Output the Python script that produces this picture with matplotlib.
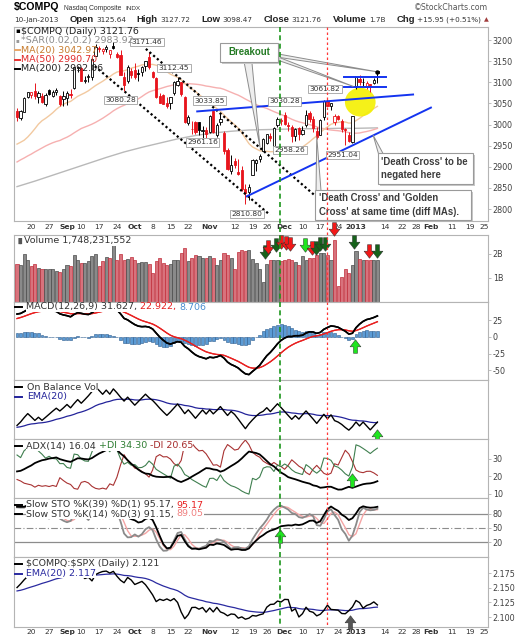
import numpy as np
import pandas as pd
import matplotlib
matplotlib.use("Agg")
import matplotlib.pyplot as plt
import matplotlib.transforms as mtransforms
from matplotlib.path import Path
from matplotlib.lines import Line2D
from matplotlib.patches import Ellipse, Polygon, Rectangle

plt.rcParams["font.family"] = ["DejaVu Sans"]
plt.rcParams["axes.unicode_minus"] = False

# ---------------------------------------------------------------- calendar
holidays = ["2012-07-04", "2012-09-03", "2012-10-29", "2012-10-30", "2012-11-22",
            "2012-12-25", "2013-01-01", "2013-01-21", "2013-02-18"]
first_day = "2012-08-14"

# warm-up history (1 Jun - 13 Aug 2012), only used for the indicators
pre_close = [2747.48, 2760.01, 2778.11, 2844.72, 2831.02, 2858.42, 2809.73, 2843.07, 2818.61, 2836.33,
             2872.80, 2895.33, 2929.76, 2930.45, 2859.09, 2892.42,
             2836.16, 2854.06, 2875.32, 2849.49, 2935.05, 2951.23, 2976.08, 2976.12, 2937.33, 2931.77,
             2902.33, 2887.98, 2866.19, 2908.47, 2896.94, 2910.04, 2942.60, 2965.90, 2925.30, 2890.15,
             2862.99, 2854.24, 2893.25, 2958.09, 2945.84, 2939.52, 2920.21, 2909.77, 2967.90, 2989.91,
             3015.86, 3011.25, 3018.64, 3020.86, 3022.52]
pre_high = [2790, 2768, 2781, 2845, 2872, 2859, 2890, 2844, 2850, 2842, 2873, 2900, 2937, 2939, 2932, 2893,
            2866, 2860, 2880, 2860, 2936, 2954, 2977, 2995, 2960, 2940, 2945, 2905, 2876, 2910, 2909, 2917,
            2949, 2971, 2945, 2895, 2895, 2876, 2900, 2962, 2966, 2958, 2955, 2930, 2975, 3007, 3026, 3017,
            3023, 3021, 3023]
pre_low = [2726, 2726, 2751, 2793, 2830, 2815, 2809, 2807, 2808, 2806, 2837, 2858, 2903, 2905, 2857, 2862,
           2830, 2835, 2852, 2820, 2890, 2925, 2950, 2960, 2922, 2920, 2897, 2876, 2847, 2875, 2890, 2880,
           2902, 2950, 2922, 2860, 2845, 2845, 2875, 2903, 2938, 2937, 2917, 2891, 2948, 2973, 2995, 2999,
           3006, 2998, 3000]
pre_vol = [1.95, 1.72, 1.55, 1.80, 1.62, 1.48, 1.60, 1.58, 1.52, 1.60, 1.95, 1.58, 1.70, 1.78, 1.92, 2.10,
           1.55, 1.62, 1.50, 1.65, 2.00, 1.45, 0.95, 1.35, 1.55, 1.50, 1.60, 1.58, 1.62, 1.45, 1.40, 1.65,
           1.60, 1.70, 1.55, 1.65, 1.75, 1.70, 1.80, 1.90, 1.60, 1.70, 1.75, 1.60, 1.70, 1.40, 1.60, 1.55,
           1.45, 1.35, 1.30]
pre_spx = [1278.04, 1278.18, 1285.50, 1315.13, 1314.99, 1325.66, 1308.93, 1324.18, 1314.88, 1329.10,
           1342.84, 1344.78, 1357.98, 1355.69, 1325.51, 1335.02,
           1313.72, 1319.99, 1331.85, 1329.04, 1362.16, 1365.51, 1374.02, 1367.58, 1354.68, 1352.46,
           1341.47, 1341.45, 1334.76, 1356.78, 1353.64, 1363.67, 1372.78, 1376.51, 1362.66, 1350.52,
           1338.31, 1337.89, 1360.02, 1385.97, 1385.30, 1379.32, 1375.32, 1365.00, 1390.99, 1394.23,
           1401.35, 1402.22, 1402.80, 1405.87, 1404.11]

# ---------------------------------------------------------------- shown period (14 Aug 2012 - 10 Jan 2013)
opens = [3033, 3015, 3030, 3065, 3070, 3080, 3064, 3068, 3049, 3082, 3068, 3077, 3068, 3060,
         3063, 3072, 3086, 3133, 3134, 3103, 3113, 3113, 3162, 3180, 3173, 3178, 3168, 3186, 3168, 3164,
         3113, 3103, 3126,
         3130, 3122, 3125, 3138, 3159, 3124, 3111, 3068, 3070, 3050, 3052, 3075, 3094, 3100, 3066, 3003,
         2989, 3005, 3005, 2984, 2986,
         2983, 3032, 2975, 3006, 2980, 2939, 2890, 2914, 2888, 2893, 2848, 2841, 2881, 2909, 2919, 2937,
         2956, 2973, 2950, 3000, 3008,
         3023, 3000, 2994, 2972, 2992, 2977, 2999, 3028, 3012, 2985, 2976, 3017, 3056, 3044, 3006, 3019,
         3009, 2990, 2975, 2958,
         3091, 3108, 3100, 3090, 3095, 3099, 3125.64]
highs = [3038, 3034, 3065, 3077, 3077, 3099, 3080, 3074, 3075, 3084, 3082, 3086, 3070, 3080,
         3080, 3083, 3136, 3139, 3136, 3115, 3120, 3158, 3191, 3185, 3182, 3189, 3176, 3196, 3172, 3177,
         3124, 3142, 3134,
         3146, 3132, 3139, 3150, 3171.46, 3127, 3112, 3074, 3072, 3064, 3065, 3102, 3112.45, 3101, 3068,
         3023, 3008, 3008, 3007, 2997, 2993,
         3023, 3033.85, 3004, 3024, 2985, 2944, 2929, 2920, 2918, 2902, 2860, 2859, 2918, 2919, 2931,
         2967, 2977, 2981, 2993, 3018, 3015,
         3030.28, 3005, 2998, 2991, 2995, 2997, 3034, 3032, 3020, 2995, 3012, 3057, 3061.82, 3052, 3025,
         3022, 3012, 2992, 2982, 3020,
         3112.6, 3118, 3109, 3102, 3097, 3111, 3127.72]
lows = [3008, 3011, 3029, 3062, 3063, 3060, 3051, 3050, 3044, 3070, 3065, 3070, 3044, 3044,
        3046, 3063, 3085, 3125, 3104, 3099, 3100, 3106, 3161, 3172, 3168, 3172, 3157, 3178, 3157, 3117,
        3080.28, 3099, 3110,
        3107, 3102, 3114, 3126, 3132, 3109, 3063, 3050, 3048, 3040, 3037, 3071, 3091, 3068, 3004, 2998,
        2977, 2978, 2975, 2961.16, 2967,
        2981, 2980, 2970, 3000, 2930, 2893, 2884, 2896, 2880, 2843, 2810.80, 2822, 2881, 2889, 2912,
        2937, 2954, 2962, 2940, 2995, 2998,
        3000, 2984, 2958.26, 2962, 2963, 2975, 2994, 3006, 2983, 2966, 2976, 3010, 3043, 3035, 2998,
        3010, 2983, 2951.04, 2958, 2957,
        3085, 3093, 3091, 3083, 3078, 3096, 3098.47]
closes = [3016.98, 3030.93, 3062.39, 3076.59, 3076.21, 3067.26, 3073.67, 3053.40, 3069.79, 3073.19,
          3077.14, 3081.19, 3048.71, 3066.96,
          3075.06, 3069.27, 3135.81, 3136.42, 3104.02, 3104.53, 3114.31, 3155.83, 3183.95, 3178.67,
          3177.80, 3182.62, 3175.96, 3179.96, 3160.78, 3117.73, 3093.70, 3136.60, 3116.23,
          3113.53, 3120.04, 3135.23, 3149.46, 3136.19, 3112.35, 3065.02, 3051.78, 3049.41, 3044.11,
          3064.18, 3101.17, 3104.12, 3072.87, 3005.62, 3016.96, 2990.46, 2981.70, 2986.12, 2987.95, 2977.23,
          3020.06, 2982.13, 2999.66, 3011.93, 2937.29, 2895.58, 2904.87, 2904.25, 2883.89, 2846.81,
          2836.94, 2853.13, 2916.07, 2916.68, 2926.55, 2966.85, 2976.78, 2967.79, 2991.78, 3012.03, 3010.24,
          3002.20, 2996.69, 2973.70, 2989.27, 2978.04, 2986.96, 3022.30, 3013.81, 2992.16, 2971.33,
          3010.60, 3054.53, 3044.36, 3050.39, 3021.01, 3012.60, 2990.16, 2985.91, 2960.31, 3019.51,
          3112.26, 3100.57, 3101.66, 3098.81, 3091.81, 3105.81, 3121.76]
volume = [1.60, 1.56, 1.99, 1.76, 1.49, 1.58, 1.43, 1.39, 1.36, 1.39, 1.39, 1.31, 1.25, 1.39,
          1.53, 1.51, 1.94, 1.76, 1.63, 1.63, 1.71, 1.90, 2.01, 1.51, 1.72, 1.88, 1.83, 2.36, 1.74, 1.99,
          1.74, 1.78, 1.86,
          1.76, 1.64, 1.65, 1.65, 1.58, 1.22, 1.69, 1.82, 1.64, 1.56, 1.58, 1.76, 1.76, 2.06, 2.26, 1.71,
          1.82, 1.97, 1.90, 1.83, 1.83,
          1.90, 1.83, 1.53, 1.76, 2.06, 1.94, 1.83, 1.39, 2.07, 2.18, 2.11, 2.18, 1.79, 1.63, 1.39, 0.82,
          1.60, 1.76, 1.76, 1.76, 1.69,
          1.76, 1.79, 1.74, 1.65, 1.56, 1.93, 1.74, 1.83, 1.83, 1.94, 2.04, 2.04, 1.97, 1.74, 2.59, 0.66,
          1.05, 1.38, 1.19, 1.56,
          2.12, 1.79, 1.76, 1.76, 1.76, 1.76, 1.748231552]
spx = [1403.11, 1405.53, 1415.51, 1418.16, 1418.13, 1413.17, 1413.49, 1402.08, 1411.13, 1410.44,
       1409.30, 1410.49, 1399.48, 1406.58,
       1404.94, 1403.44, 1432.12, 1437.92, 1429.08, 1433.56, 1436.56, 1459.99, 1465.77, 1461.19,
       1459.32, 1461.05, 1460.26, 1460.15, 1456.89, 1441.59, 1433.32, 1447.15, 1440.67,
       1444.49, 1445.75, 1450.99, 1461.40, 1460.93, 1455.88, 1441.48, 1432.56, 1432.84, 1428.59,
       1440.13, 1454.92, 1460.91, 1457.34, 1433.19, 1433.82, 1413.11, 1408.75, 1412.97, 1411.94, 1412.16,
       1427.59, 1414.20, 1417.26, 1428.39, 1394.53, 1377.51, 1379.85, 1380.03, 1374.53, 1355.49,
       1353.33, 1359.88, 1386.89, 1387.81, 1391.03, 1409.15, 1406.29, 1398.94, 1409.93, 1415.95, 1416.18,
       1409.46, 1407.05, 1409.28, 1413.94, 1418.07, 1418.55, 1427.84, 1428.48, 1419.45, 1413.58,
       1430.36, 1446.79, 1435.81, 1443.69, 1430.15, 1426.66, 1419.83, 1418.10, 1402.43, 1426.19,
       1462.42, 1459.37, 1466.47, 1461.89, 1457.15, 1461.02, 1472.12]

# MA(200) every week (bar number, value)
ma200_bar = [0, 5, 10, 15, 20, 25, 30, 35, 40, 45, 50, 55, 60, 65, 70, 75, 80, 85, 90, 95, 101]
ma200_val = [2853, 2866, 2880, 2894, 2908, 2922, 2935, 2946, 2956, 2966, 2974, 2980, 2984, 2987,
             2988, 2989, 2990, 2990, 2991, 2991, 2992.06]

# x axis labels
tick_dates = ["2012-08-20", "2012-08-27", "2012-09-04", "2012-09-10", "2012-09-17", "2012-09-24",
              "2012-10-01", "2012-10-08", "2012-10-15", "2012-10-22", "2012-11-01", "2012-11-12",
              "2012-11-19", "2012-11-26", "2012-12-03", "2012-12-10", "2012-12-17", "2012-12-24",
              "2013-01-02", "2013-01-14", "2013-01-22", "2013-01-28", "2013-02-01", "2013-02-11",
              "2013-02-19", "2013-02-25"]
tick_text = ["20", "27", "Sep", "10", "17", "24", "Oct", "8", "15", "22", "Nov", "12", "19", "26",
             "Dec", "10", "17", "24", "2013", "14", "22", "28", "Feb", "11", "19", "25"]

# price labels drawn on the chart (bar, price, text)
price_tags = [(36.4, 3195, "3171.46"), (29.0, 3058, "3080.28"), (44.0, 3134, "3112.45"),
              (54.0, 3056, "3033.85"), (52.0, 2958, "2961.16"), (64.4, 2788, "2810.80"),
              (75.0, 3055, "3030.28"), (76.5, 2940, "2958.26"), (86.3, 3084, "3061.82"),
              (91.3, 2928, "2951.04")]

# hand drawn lines (bar, price)
channel_lines = [((21.8, 3138), (70.9, 2786)), ((36.1, 3179), (84.3, 2826))]
blue_lines = [((50.5, 3031), (111.0, 3071)), ((64.4, 2830), (116.0, 3040)),
              ((91.6, 3113), (103.5, 3113)), ((91.6, 3088), (103.5, 3088))]
green_day, red_day = 73.8, 86.8

# ---------------------------------------------------------------- indicators
cal = pd.bdate_range("2012-06-01", "2013-03-01")
cal = cal[~cal.isin(pd.to_datetime(holidays))]
n0 = cal.get_loc(pd.Timestamp(first_day))
tick_x = [cal.get_loc(pd.Timestamp(d)) - n0 for d in tick_dates]

npre = len(pre_close)
c_all = pd.Series(pre_close + closes, dtype=float)
h_all = pd.Series(pre_high + highs, dtype=float)
l_all = pd.Series(pre_low + lows, dtype=float)
v_all = pd.Series(pre_vol + volume, dtype=float) * 1e9
s_all = pd.Series(pre_spx + spx, dtype=float)
bars = np.arange(len(closes))

def shown(s):
    return np.asarray(s, dtype=float)[npre:]

ma20 = shown(c_all.rolling(20).mean())
ma50 = shown(c_all.rolling(50).mean())

macd_all = c_all.ewm(span=12, adjust=False).mean() - c_all.ewm(span=26, adjust=False).mean()
sig_all = macd_all.ewm(span=9, adjust=False).mean()
macd_line, macd_sig = shown(macd_all), shown(sig_all)
macd_hist = macd_line - macd_sig

obv_all = (np.sign(c_all.diff()).fillna(0) * v_all).cumsum()
obv, obv_ema = shown(obv_all), shown(obv_all.ewm(span=20, adjust=False).mean())

pc = c_all.shift(1)
true_range = pd.concat([h_all - l_all, (h_all - pc).abs(), (l_all - pc).abs()], axis=1).max(axis=1)
upm, dnm = h_all.diff(), -l_all.diff()
pdm = pd.Series(np.where((upm > dnm) & (upm > 0), upm, 0.0))
mdm = pd.Series(np.where((dnm > upm) & (dnm > 0), dnm, 0.0))
atr = true_range.ewm(alpha=1 / 14, adjust=False).mean()
pdi_all = 100 * pdm.ewm(alpha=1 / 14, adjust=False).mean() / atr
mdi_all = 100 * mdm.ewm(alpha=1 / 14, adjust=False).mean() / atr
dx = 100 * (pdi_all - mdi_all).abs() / (pdi_all + mdi_all)
adx, pdi, mdi = shown(dx.ewm(alpha=1 / 14, adjust=False).mean()), shown(pdi_all), shown(mdi_all)

def fast_k(n):
    lo, hi = l_all.rolling(n).min(), h_all.rolling(n).max()
    return 100 * (c_all - lo) / (hi - lo)

k39 = shown(fast_k(39).rolling(3).mean())
k14_all = fast_k(14).rolling(3).mean()
k14, d14 = shown(k14_all), shown(k14_all.rolling(3).mean())

ratio_all = c_all / s_all
ratio, ratio_ema = shown(ratio_all), shown(ratio_all.ewm(span=20, adjust=False).mean())

# ---------------------------------------------------------------- figure
W, H = 529, 640
fig = plt.figure(figsize=(W / 100, H / 100), dpi=100)
fig.patch.set_facecolor("white")
renderer = fig.canvas.get_renderer()

def panel(top, bot):
    ax = fig.add_axes([14 / W, 1 - bot / H, 474 / W, (bot - top) / H])
    ax.set_xlim(-0.85, 132)
    for s in ax.spines.values():
        s.set_color("#b4b4b4")
        s.set_linewidth(0.8)
    ax.yaxis.tick_right()
    ax.tick_params(axis="y", labelsize=5.8, labelcolor="#404040", color="#b4b4b4",
                   length=2, width=0.6, pad=1.5)
    ax.set_xticks(tick_x)
    ax.tick_params(axis="x", length=0, labelbottom=False)
    return ax

def date_labels(ax, pad):
    ax.tick_params(axis="x", labelbottom=True, labelsize=5.4, labelcolor="#333333", pad=pad)
    ax.set_xticklabels(tick_text)
    for lab, t in zip(ax.get_xticklabels(), tick_text):
        if not t.isdigit() or t == "2013":
            lab.set_fontweight("bold")

def rich(xp, yp, parts, size=6.5, family="DejaVu Sans", weight="normal", box=True):
    for s, c in parts:
        t = fig.text(xp / W, 1 - yp / H, s, color=c, fontsize=size, family=family,
                     fontweight=weight, va="center", ha="left", zorder=6)
        if box:
            t.set_bbox(dict(boxstyle="square,pad=0.0", fc="white", ec="none"))
        xp += t.get_window_extent(renderer).width
    return xp

def key_line(yp, color, xa=15, xb=23):
    fig.add_artist(Line2D([xa / W, xb / W], [1 - yp / H] * 2, color=color, lw=1.4, zorder=6))

arrow_down = Path([(-0.3, 1), (0.3, 1), (0.3, 0.05), (0.8, 0.05), (0, -1), (-0.8, 0.05),
                   (-0.3, 0.05), (-0.3, 1)], [Path.MOVETO] + [Path.LINETO] * 6 + [Path.CLOSEPOLY])
arrow_up = Path(arrow_down.vertices * [1, -1], arrow_down.codes)

def arrow(ax, xb, yf, color, up):
    tr_ = mtransforms.blended_transform_factory(ax.transData, ax.transAxes)
    ax.scatter([xb], [yf], marker=arrow_up if up else arrow_down, s=95, c=color,
               edgecolors="#2a2a2a", linewidths=0.35, transform=tr_, clip_on=False, zorder=8)

dk_green, br_green, red_arr, grey_arr = "#16621a", "#1fe51f", "#f21818", "#555555"

# ---------------- header
fig.text(14 / W, 1 - 7.5 / H, "$COMPQ", fontsize=7.6, family="Liberation Sans", fontweight="bold",
         color="black", va="center")
t_name = fig.text(64 / W, 1 - 8 / H, "Nasdaq Composite", fontsize=4.9, family="Liberation Sans",
                  color="#333333", va="center")
name_end = 64 + t_name.get_window_extent(renderer).width
fig.text((name_end + 4) / W, 1 - 8 / H, "INDX", fontsize=4.6, family="Liberation Sans",
         color="#333333", va="center")
fig.text(488 / W, 1 - 8 / H, "\u00a9StockCharts.com", ha="right", va="center", fontsize=5.6,
         color="#555555")
chg = closes[-1] - closes[-2]
head = [("10-Jan-2013", False), ("Open", True), (f"{opens[-1]:.2f}", False),
        ("High", True), (f"{highs[-1]:.2f}", False), ("Low", True), (f"{lows[-1]:.2f}", False),
        ("Close", True), (f"{closes[-1]:.2f}", False), ("Volume", True), (f"{volume[-1]:.1f}B", False),
        ("Chg", True), (f"{chg:+.2f} ({chg / closes[-2] * 100:+.2f}%)", False)]
head_txt = []
for s, bold in head:
    if bold:
        t = fig.text(0, 1 - 20 / H, s, fontsize=6.8, family="Liberation Sans", fontweight="bold",
                     color="#222222", va="center")
    else:
        t = fig.text(0, 1 - 20 / H, s, fontsize=5.2, family="DejaVu Sans", color="#333333",
                     va="center")
    head_txt.append((t, t.get_window_extent(renderer).width, bold))
small_gap = 2.5
big_gap = (481 - 14 - sum(w for _, w, _ in head_txt) - 6 * small_gap) / 6
xp = 14
for i, (t, w, bold) in enumerate(head_txt):
    if bold:
        xp += big_gap
    elif i > 0:
        xp += small_gap
    t.set_x(xp / W)
    xp += w
fig.text(486 / W, 1 - 20 / H, "\u25b2", fontsize=4.5, color="#a03c3c", va="center", ha="center")

# ---------------- price panel
ax_p = panel(27, 221)
ax_p.set_ylim(2771.6, 3230.8)
ax_p.set_yticks(range(2800, 3201, 50))
date_labels(ax_p, 2.2)

ax_p.plot(ma200_bar, ma200_val, color="#b9b9b9", lw=1.0, zorder=1)
ax_p.plot(bars, ma50, color="#f6b0b0", lw=1.0, zorder=1)
ax_p.plot(bars, ma20, color="#f2c9a0", lw=1.0, zorder=1)

prev_close = np.r_[pre_close[-1], closes[:-1]]
cl, op = np.array(closes), np.array(opens)
ccol = np.where(cl >= prev_close, "black", "#e8141c")
face = np.where(cl > op, "white", ccol)
ax_p.vlines(bars, lows, highs, colors=ccol, lw=0.7, zorder=3)
ax_p.bar(bars, np.maximum(np.abs(cl - op), 0.9), bottom=np.minimum(cl, op), width=0.62,
         color=face, edgecolor=ccol, linewidth=0.6, zorder=4)

ax_p.add_patch(Ellipse((96.2, 3053), 8.6, 68, color="#f4f000", alpha=0.9, zorder=2, lw=0))
for (xa, ya), (xb, yb) in channel_lines:
    ax_p.plot([xa, xb], [ya, yb], color="black", lw=1.6, ls=(0, (1, 1.2)), zorder=5)
for (xa, ya), (xb, yb) in blue_lines:
    ax_p.plot([xa, xb], [ya, yb], color="#1434f0", lw=1.4, zorder=5)

for xb, yb, s in price_tags:
    ax_p.text(xb, yb, s, fontsize=5.4, color="#333333", ha="center", va="center", zorder=7,
              bbox=dict(boxstyle="square,pad=0.18", fc="white", ec="#a0a0a0", lw=0.6))

shadow = mtransforms.offset_copy(ax_p.transData, fig=fig, x=2, y=-2, units="dots")

def callout(xa, xb, ylo, yhi, text, color, tails, center=False):
    for base1, base2, tip in tails:
        ax_p.add_patch(Polygon([base1, base2, tip], closed=True, fc="#eeeeee", ec="#8c8c8c",
                               lw=0.7, zorder=8))
    ax_p.add_patch(Rectangle((xa, ylo), xb - xa, yhi - ylo, transform=shadow, fc="#c8c8c8",
                             ec="none", zorder=8.5))
    ax_p.add_patch(Rectangle((xa, ylo), xb - xa, yhi - ylo, fc="white", ec="#9a9a9a",
                             lw=0.8, zorder=9))
    tx = (xa + xb) / 2 if center else xa + 1.0
    ax_p.text(tx, (ylo + yhi) / 2, text, color=color, fontsize=6.9, fontweight="bold",
              family="Liberation Sans", ha="center" if center else "left", va="center",
              linespacing=1.45, zorder=10)

callout(56.9, 73.1, 3148, 3193, "Breakout", "#237a23",
        [((63.6, 3150), (65.8, 3150), (68.1, 2946)),
         ((72.5, 3168), (72.5, 3160), (100.8, 3125)),
         ((72.5, 3162), (72.5, 3154), (94.3, 3090))], center=True)
ax_p.plot([100.8], [3125], "o", color="black", ms=2.2, zorder=9)
callout(101.1, 127.7, 2858, 2933, "'Death Cross' to be\nnegated here", "#3c3c3c",
        [((101.3, 2931), (102.6, 2931), (99.8, 2975))])
callout(83.5, 127.2, 2774, 2845, "'Death Cross' and 'Golden\nCross' at same time (diff MAs).",
        "#3c3c3c", [((83.8, 2843), (85.2, 2843), (84.0, 2972))])

LS = 6.8
rich(15, 31, [("\u25aa", "black")], size=5, box=False)
rich(21, 31, [(f"\\$COMPQ (Daily) {closes[-1]:.2f}", "#222222")], size=LS, box=False)
rich(15, 40.5, [("\u25aa", "#999999")], size=4, box=False)
rich(21, 40.5, [("*SAR(0.02,0.2) 2983.92", "#8a8a8a")], size=LS, box=False)
key_line(50, "#e9a668", 15, 20)
rich(21, 50, [(f"MA(20) {ma20[-1]:.2f}", "#c77c2e")], size=LS, box=False)
key_line(59.5, "#e83030", 15, 20)
rich(21, 59.5, [(f"MA(50) {ma50[-1]:.2f}", "#e02828")], size=LS, box=False)
key_line(69, "black", 15, 20)
rich(21, 69, [(f"MA(200) {ma200_val[-1]:.2f}", "#222222")], size=LS, box=False)

# ---------------- volume
ax_v = panel(235, 302)
ax_v.set_ylim(0, 2.79e9)
ax_v.set_yticks([1e9, 2e9])
ax_v.set_yticklabels(["1B", "2B"])
vol_up = cl >= prev_close
ax_v.bar(bars, np.array(volume) * 1e9, width=0.86, color=np.where(vol_up, "#8a8a8a", "#d8727c"),
         edgecolor=np.where(vol_up, "#4a4a4a", "#c02c3a"), linewidth=0.5, zorder=2)
rich(16, 241, [("\u2590\u258c", "#555555")], size=4.5, box=False)
rich(24, 241, [(f"Volume {volume[-1] * 1e9:,.0f}", "#333333")], size=LS)
for xb, yf, col in [(69.5, 0.75, dk_green), (70.3, 0.82, red_arr), (72.5, 0.85, dk_green),
                    (74.0, 0.90, red_arr), (75.3, 0.88, red_arr), (76.5, 0.865, red_arr),
                    (80.7, 0.85, br_green), (82.6, 0.81, red_arr), (83.8, 0.81, dk_green),
                    (85.0, 0.865, dk_green), (86.3, 0.865, dk_green), (88.8, 1.09, red_arr),
                    (94.4, 0.89, dk_green), (98.6, 0.76, red_arr), (100.8, 0.76, dk_green)]:
    arrow(ax_v, xb, yf, col, False)

# ---------------- MACD
ax_m = panel(302, 380)
ax_m.set_ylim(-64.5, 52.5)
ax_m.set_yticks([-50, -25, 0, 25])
ax_m.bar(bars, macd_hist, width=0.82, color="#5b9bd5", edgecolor="#2c5c8e", linewidth=0.4, zorder=2)
ax_m.plot(bars, macd_sig, color="#e82020", lw=0.9, zorder=5)
ax_m.plot(bars, macd_line, color="black", lw=1.1, zorder=6)
key_line(307, "black", 15, 22)
rich(26, 307, [("MACD(12,26,9) 31.627, ", "#333333"), ("22.922, ", "#e82020"), ("8.706", "#4a8ed0")],
     size=LS)
arrow(ax_m, 94.7, 0.436, br_green, True)

# ---------------- On balance volume
ax_o = panel(380, 439)
lo_o = min(obv.min(), obv_ema.min())
hi_o = max(obv.max(), obv_ema.max())
span_o = (hi_o - lo_o) / 0.73
ax_o.set_ylim(lo_o - 0.15 * span_o, lo_o + 0.85 * span_o)
ax_o.set_yticks([])
ax_o.plot(bars, obv_ema, color="#23239a", lw=0.9, zorder=2)
ax_o.plot(bars, obv, color="black", lw=1.0, zorder=3)
key_line(387, "black", 15, 22)
rich(27, 387, [("On Balance Vol", "#333333")], size=LS)
key_line(396.5, "#23239a", 15, 22)
rich(27, 396.5, [("EMA(20)", "#23239a")], size=LS)
arrow(ax_o, 100.8, 0.05, br_green, True)

# ---------------- ADX
ax_a = panel(439, 498)
ax_a.set_ylim(7.7, 41.4)
ax_a.set_yticks([10, 20, 30])
ax_a.plot(bars, mdi, color="#a83232", lw=0.8, zorder=2)
ax_a.plot(bars, pdi, color="#3f7f4f", lw=0.8, zorder=2)
ax_a.plot(bars, adx, color="black", lw=1.3, zorder=3)
key_line(446, "black", 15, 22)
rich(26, 446, [("ADX(14) 16.04 ", "#333333"), ("+DI 34.30 ", "#2e7d32"), ("-DI 20.65", "#a52a2a")],
     size=LS)
arrow(ax_a, 93.8, 0.305, br_green, True)

# ---------------- Slow stochastics
ax_s = panel(498, 557)
ax_s.set_ylim(-12, 114)
ax_s.set_yticks([20, 50, 80])
ax_s.axhline(80, color="#8c8c8c", lw=0.9, zorder=1)
ax_s.axhline(20, color="#8c8c8c", lw=0.9, zorder=1)
ax_s.axhline(50, color="#8c8c8c", lw=0.8, ls=(0, (6, 2, 1, 2)), zorder=1)
ax_s.plot(bars, d14, color="#f4a4a4", lw=1.0, zorder=2)
ax_s.plot(bars, k14, color="#8a8a8a", lw=1.3, zorder=3)
ax_s.plot(bars, k39, color="black", lw=1.3, zorder=4)
key_line(505, "black", 15, 22)
rich(26, 505, [("Slow STO %K(39) %D(1) 95.17, ", "#333333"), ("95.17", "#e82020")], size=LS)
key_line(514, "black", 15, 22)
rich(26, 514, [("Slow STO %K(14) %D(3) 91.15, ", "#333333"), ("89.05", "#f08080")], size=LS)
arrow(ax_s, 73.7, 0.36, br_green, True)

# ---------------- ratio to S&P 500
ax_r = panel(557, 627)
ax_r.set_ylim(2.083, 2.2023)
ax_r.set_yticks([2.100, 2.125, 2.150, 2.175])
ax_r.set_yticklabels(["2.100", "2.125", "2.150", "2.175"])
date_labels(ax_r, 1.6)
ax_r.plot(bars, ratio_ema, color="#2a2aa0", lw=0.9, zorder=2)
ax_r.plot(bars, ratio, color="black", lw=1.0, zorder=3)
key_line(564, "black", 15, 22)
rich(26, 564, [(f"\\$COMPQ:\\$SPX (Daily) {ratio[-1]:.3f}", "#333333")], size=LS)
key_line(573.5, "#2a2aa0", 15, 22)
rich(26, 573.5, [("EMA(20) 2.117", "#2a2aa0")], size=LS)
arrow(ax_r, 93.3, 0.076, grey_arr, True)

# ---------------- MACD lines once more at figure level, in the MACD panel's own scale
for vals, col, wid in [(macd_sig, "#e82020", 0.9), (macd_line, "black", 1.2)]:
    ln = Line2D(bars, vals, color=col, lw=wid, transform=ax_m.transData, zorder=4)
    ln.set_clip_box(ax_m.bbox)
    fig.add_artist(ln)

# ---------------- the two marker days through every panel
for xv, col, dash, wid in [(green_day, "#1c961c", (0, (3, 2)), 1.2), (red_day, "#ff3838", (0, (2, 2)), 0.9)]:
    xf = ax_p.transData.transform((xv, 3000))[0] / fig.bbox.width
    fig.add_artist(Line2D([xf, xf], [1 - 27 / H, 1 - 627 / H], color=col, lw=wid, ls=dash, zorder=3))

fig.savefig("out.png", dpi=100)
